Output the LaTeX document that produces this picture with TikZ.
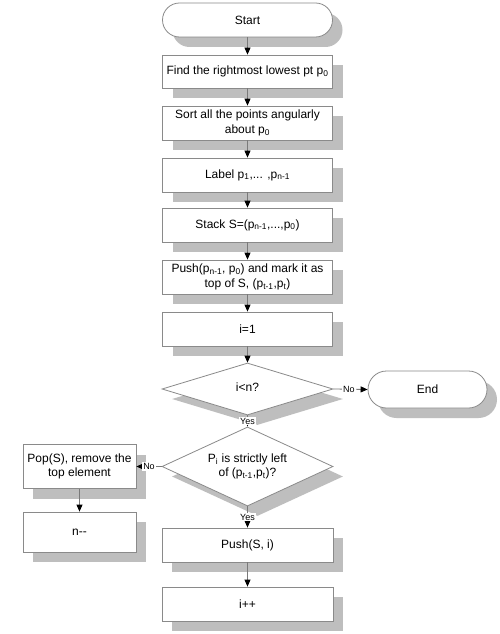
\documentclass[tikz,border=0pt]{standalone}
\usepackage{fontspec}
\setmainfont{Liberation Sans}
\usetikzlibrary{arrows.meta,shapes.geometric,shadows,calc}
\definecolor{boxline}{HTML}{8A8A8A}
\definecolor{shgray}{HTML}{BEBEBE}
\definecolor{cshgray}{HTML}{DDDDDD}
\definecolor{lnk}{HTML}{7A7A7A}
\pgfdeclarelayer{cshadow}
\pgfdeclarelayer{loop}
\pgfsetlayers{cshadow,loop,main}
\newcommand{\dtext}[1]{\smash{\raisebox{-3bp}{\begin{tabular}{@{}c@{}}#1\end{tabular}}}}
\newcommand{\flink}[3][]{%
  \begin{pgfonlayer}{cshadow}
    \draw[cshad,#1,transform canvas={shift={(10bp,-10bp)}}] #2;
  \end{pgfonlayer}
  \draw[conn,#1] #2 #3;}
\tikzset{
  every node/.style={font=\fontsize{12bp}{14.5bp}\selectfont},
  fshadow/.style={drop shadow={shadow xshift=10bp,shadow yshift=-10bp,fill=shgray,opacity=1}},
  procbox/.style={rectangle, draw=boxline, line width=0.8bp, fill=white, fshadow,
    minimum width=170bp, minimum height=34bp, inner sep=2bp, align=center},
  termbox/.style={rectangle, rounded corners=17bp, draw=boxline, line width=0.8bp,
    fill=white, fshadow, minimum width=170bp, minimum height=34bp},
  decbox/.style={diamond, draw=boxline, line width=0.8bp, fill=white, fshadow,
    minimum width=171bp, minimum height=52bp, inner sep=0pt},
  conn/.style={draw=lnk, line width=0.8bp, -{Triangle[length=7bp,width=6bp,color=black]}},
  cshad/.style={draw=cshgray, line width=0.8bp, -{Triangle[length=7bp,width=6bp,color=cshgray]}},
  loopline/.style={draw=lnk, line width=0.8bp},
  loopshad/.style={draw=cshgray, line width=0.8bp},
  lbl/.style={fill=white, inner sep=1bp, font=\fontsize{9bp}{10bp}\selectfont},
}
\begin{document}
\begin{tikzpicture}[x=1bp,y=-1bp]
\useasboundingbox (0,0) rectangle (500,634);
\fill[white] (0,0) rectangle (500,634);

\node[termbox] (start) at (247.5,20) {Start};
\node[procbox, minimum height=33bp] (find) at (247.5,71.5) {Find the rightmost lowest pt p\textsubscript{0}};
\node[procbox] (sort) at (247.5,123) {Sort all the points angularly\\about p\textsubscript{0}};
\node[procbox] (label) at (247.5,175) {Label p\textsubscript{1},... ,p\textsubscript{n-1}};
\node[procbox] (stack) at (247.5,225) {Stack S=(p\textsubscript{n-1},...,p\textsubscript{0})};
\node[procbox] (push) at (247.5,277) {Push(p\textsubscript{n-1}, p\textsubscript{0}) and mark it as\\top of S, (p\textsubscript{t-1},p\textsubscript{t})};
\node[procbox] (i1) at (247.5,329) {i=1};
\node[decbox] (d1) at (247.5,389) {\dtext{i<n?}};
\node[termbox, rounded corners=18.5bp, minimum width=119bp, minimum height=37bp] (endn) at (427.5,389.5) {End};
\node[decbox, minimum height=51bp] (d2) at (247.5,466.5) {\dtext{P\textsubscript{i} is strictly left\\of (p\textsubscript{t-1},p\textsubscript{t})?}};
\node[procbox, minimum width=113bp, minimum height=44bp] (pop) at (79.5,466.5) {Pop(S), remove the\\top element};
\node[procbox, minimum width=113bp, minimum height=40bp] (nm) at (79.5,532) {n-{}-};
\node[procbox, minimum width=171bp] (pushsi) at (247.5,545) {Push(S, i)};
\node[procbox, minimum width=171bp] (ipp) at (247.5,604) {i++};

\coordinate (loopx) at (6,354);
\coordinate (join) at (247.5,354);

\flink{(start) -- (find)}{}
\flink{(find) -- (sort)}{}
\flink{(sort) -- (label)}{}
\flink{(label) -- (stack)}{}
\flink{(stack) -- (push)}{}
\flink{(push) -- (i1)}{}
\flink{(i1) -- (d1)}{}
\flink{(d1.south) -- (d2.north)}{node[lbl,pos=0.5]{Yes}}
\flink{(d2.south) -- (pushsi.north)}{node[lbl,pos=0.5]{Yes}}
\flink{(pushsi) -- (ipp)}{}
\flink{(d1.east) -- (endn.west)}{node[lbl,pos=0.45]{No}}
\flink{(d2.west) -- (pop.east)}{node[lbl,pos=0.5]{No}}
\flink{(pop) -- (nm)}{}

\begin{pgfonlayer}{loop}
  \draw[loopline] (ipp.west) -- (ipp.west -| loopx) -- (loopx) -- (join);
  \draw[loopline] (nm.west) -- (nm.west -| loopx);
\end{pgfonlayer}
\begin{pgfonlayer}{cshadow}
  \draw[loopshad,transform canvas={shift={(10bp,-10bp)}}] (ipp.west) -- (ipp.west -| loopx) -- (loopx) -- (join);
  \draw[loopshad,transform canvas={shift={(10bp,-10bp)}}] (nm.west) -- (nm.west -| loopx);
\end{pgfonlayer}
\end{tikzpicture}
\end{document}
